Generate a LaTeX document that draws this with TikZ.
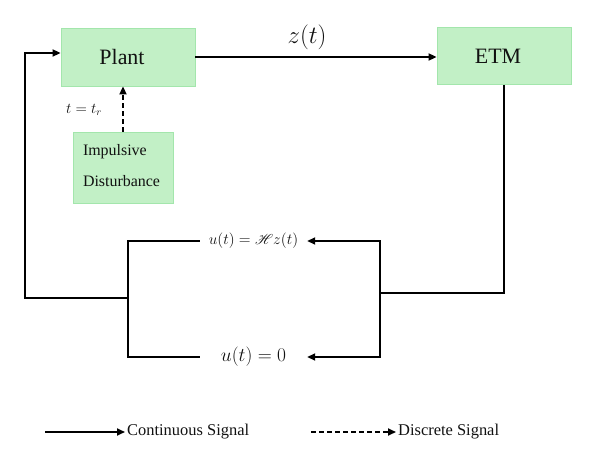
\RequirePackage{fix-cm}
\documentclass[tikz,border=0pt]{standalone}
\usepackage{fontspec}
\setmainfont{Liberation Serif}
\usepackage{mathrsfs}
\usetikzlibrary{positioning, arrows.meta, calc}
\definecolor{clrblockfill}{HTML}{C2F0C6}
\definecolor{clrblockdraw}{HTML}{A3E6AC}
\definecolor{clrline}{HTML}{000000}
\definecolor{clrtext}{HTML}{111111}

\begin{document}
\begin{tikzpicture}[
    x=1bp, y=-1bp,
    >={Triangle[length=8bp,width=7bp]},
    block/.style={draw=clrblockdraw, fill=clrblockfill, line width=0.8pt,
                  text=clrtext, inner sep=0pt},
    arrow/.style={->, color=clrline, line width=1.7pt},
    dasharrow/.style={->, color=clrline, line width=1.7pt, dash pattern=on 5bp off 3bp},
    wire/.style={color=clrline, line width=1.7pt},
    label/.style={text=clrtext, inner sep=1pt},
    ctrl/.style={text=clrtext, minimum width=107bp, inner sep=0pt},
    legendtxt/.style={text=clrtext, anchor=west, inner sep=2bp, font=\fontsize{16.5}{20}\selectfont},
]
\useasboundingbox (0,0) rectangle (594,454);
\node[block, minimum width=134bp, minimum height=58bp, font=\fontsize{22}{26}\selectfont] (n_plant) at (128,57) {\hspace*{-12bp}Plant};
\node[block, minimum width=134bp, minimum height=57bp, font=\fontsize{22}{26}\selectfont] (n_etm) at (504,56) {\hspace*{-12bp}ETM};
\node[block, minimum width=100bp, minimum height=71bp, text width=80bp, align=left, font=\fontsize{16}{32}\selectfont] (n_dist) at (123,167.5) {Impulsive\\Disturbance\vspace{4bp}};
\node[label, font=\fontsize{25}{28}\selectfont] (n_z) at (307,37) {$z(t)$};
\node[label, font=\fontsize{15}{18}\selectfont] (n_tr) at (84,110) {$t=t_r$};
\node[ctrl, font=\fontsize{15.5}{18}\selectfont] (n_hz) at (253.5,241) {$u(t)=\mathscr{H}z(t)$};
\node[ctrl, font=\fontsize{19.5}{22}\selectfont] (n_zero) at (253.5,357) {$u(t)=0$};
\coordinate (c_ljoin) at (128,298);
\coordinate (c_lturn) at (25,298);
\coordinate (c_rjoin) at (380,293);
% loop
\draw[arrow] (n_plant.east) -- (n_plant.east -| n_etm.west);
\draw[dasharrow] (n_dist.north) -- (n_dist.north |- n_plant.south);
\draw[wire] (n_etm.south) |- (c_rjoin);
\draw[arrow] (c_rjoin) |- (n_hz.east);
\draw[arrow] (c_rjoin) |- (n_zero.east);
\draw[wire] (n_hz.west) -| (c_ljoin) |- (n_zero.west);
\draw[arrow] (c_ljoin) -- (c_lturn) |- ([yshift=4bp]n_plant.west);
% legend
\node[legendtxt] (n_cont) at (125,432) {Continuous Signal};
\node[legendtxt] (n_disc) at (396,432) {Discrete Signal};
\coordinate (c_cont) at (45,432);
\coordinate (c_disc) at (311,432);
\draw[arrow] (c_cont) -- (n_cont.west);
\draw[dasharrow] (c_disc) -- (n_disc.west);
\end{tikzpicture}
\end{document}
